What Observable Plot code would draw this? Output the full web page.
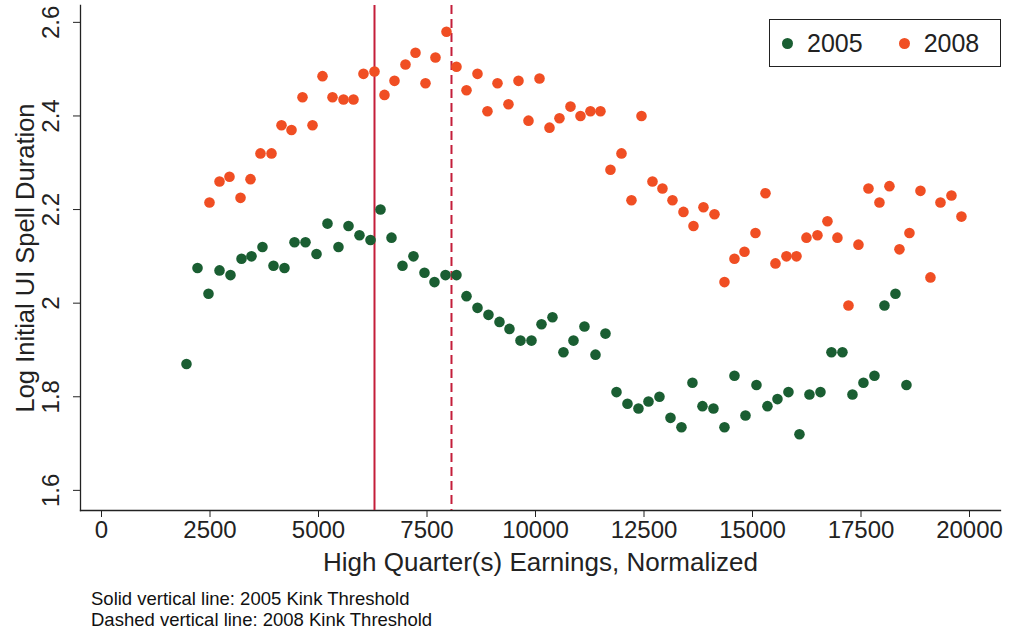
<!DOCTYPE html>
<html>
<head>
<meta charset="utf-8">
<script src="https://cdn.jsdelivr.net/npm/d3@7"></script>
<script src="https://cdn.jsdelivr.net/npm/@observablehq/plot@0.6"></script>
<style>
  body { margin: 0; background: #fff; font-family: "Liberation Sans", Arial, sans-serif; }
  #wrap { position: relative; width: 1018px; }
  #legend { position: absolute; left: 769px; top: 19px; width: 230px; height: 46px; border: 1.3px solid #222;
    background: #fff; font-size: 25px; color: #222; display: flex; align-items: center; }
  #legend span.dot { display: inline-block; width: 11px; height: 11px; border-radius: 50%; margin: 0 14px 0 12px; }
  #caption { font-size: 18.5px; color: #111; margin-left: 91px; line-height: 21px; margin-top: 0px; }
</style>
</head>
<body>
<div id="wrap">
  <div id="chart"></div>
  <div id="legend"><span class="dot" style="background:#1a5e32"></span>2005<span class="dot" style="background:#f04e23;margin-left:36px"></span>2008</div>
  <div id="caption">Solid vertical line: 2005 Kink Threshold<br>Dashed vertical line: 2008 Kink Threshold</div>
</div>
<script>
const x2005 = [1958,2212,2465,2719,2972,3226,3456,3709,3963,4216,4447,4700,4954,5207,5460,5691,5944,6198,6428,6682,
  6935,7188,7442,7672,7926,8179,8410,8663,8916,9170,9400,9654,9907,10138,10391,10644,10875,11128,11382,11612,
  11866,12119,12372,12603,12856,13110,13363,13616,13847,14100,14354,14584,14838,15091,15344,15575,15828,16082,16312,16566,
  16819,17072,17303,17556,17810,18040,18294,18547];
const y2005 = [1.87,2.075,2.02,2.07,2.06,2.095,2.10,2.12,2.08,2.075,2.13,2.13,2.105,2.17,2.12,2.165,2.145,2.135,2.20,2.14,
  2.08,2.10,2.065,2.045,2.06,2.06,2.015,1.99,1.975,1.96,1.945,1.92,1.92,1.955,1.97,1.895,1.92,1.95,1.89,1.935,
  1.81,1.785,1.775,1.79,1.80,1.755,1.735,1.83,1.78,1.775,1.735,1.845,1.76,1.825,1.78,1.795,1.81,1.72,1.805,1.81,
  1.895,1.895,1.805,1.83,1.845,1.995,2.02,1.825];
const x2008 = [2488,2719,2949,3203,3433,3663,3917,4147,4378,4631,4862,5092,5322,5576,5806,6036,6290,6520,6751,7004,
  7235,7465,7695,7949,8179,8410,8663,8893,9124,9377,9608,9838,10092,10322,10552,10806,
  11036,11266,11497,11727,11981,12211,12442,12695,12925,13156,13409,13640,13870,14124,14354,14584,14815,15068,15299,15529,
  15782,16013,16243,16497,16727,16957,17211,17441,17672,17925,18155,18386,18616,18870,19100,19331,19584,19814];
const y2008 = [2.215,2.26,2.27,2.225,2.265,2.32,2.32,2.38,2.37,2.44,2.38,2.485,2.44,2.435,2.435,2.49,2.495,2.445,2.475,2.51,
  2.535,2.47,2.525,2.58,2.505,2.455,2.49,2.41,2.47,2.425,2.475,2.39,2.48,2.375,2.395,2.42,
  2.40,2.41,2.41,2.285,2.32,2.22,2.40,2.26,2.245,2.22,2.195,2.165,2.205,2.19,2.045,2.095,2.11,2.15,2.235,2.085,
  2.10,2.10,2.14,2.145,2.175,2.14,1.995,2.125,2.245,2.215,2.25,2.115,2.15,2.24,2.055,2.215,2.23,2.185];
const kink2005 = 6290;
const kink2008 = 8064;
const xTicks = [0,2500,5000,7500,10000,12500,15000,17500,20000];
const yTicks = [1.6,1.8,2,2.2,2.4,2.6];

const pts2005 = x2005.map((x, i) => ({x, y: y2005[i]}));
const pts2008 = x2008.map((x, i) => ({x, y: y2008[i]}));

const chart = Plot.plot({
  width: 1018,
  height: 588,
  marginLeft: 80,
  marginRight: 18,
  marginTop: 5,
  marginBottom: 78,
  x: {domain: [-484, 20714]},
  y: {domain: [1.557, 2.636]},
  style: {fontFamily: "Liberation Sans, Arial, sans-serif", color: "#222", background: "#fff"},
  marks: [
    Plot.frame({anchor: "left", stroke: "#222", strokeWidth: 1.3}),
    Plot.frame({anchor: "bottom", stroke: "#222", strokeWidth: 1.3}),
    Plot.axisX(xTicks, {tickSize: 7, fontSize: 24, tickPadding: 3, label: "High Quarter(s) Earnings, Normalized",
      labelAnchor: "center", labelArrow: "none", labelOffset: 60, tickFormat: d => String(d)}),
    Plot.axisY(yTicks, {tickSize: 7, tickFormat: () => "", label: null}),
    Plot.text(yTicks, {y: d => d, frameAnchor: "left", textAnchor: "middle", dx: -29, rotate: -90, fontSize: 24,
      text: d => d === 2 ? "2" : d.toFixed(1), fill: "#222"}),
    Plot.text(["Log Initial UI Spell Duration"], {frameAnchor: "left", textAnchor: "middle", dx: -55, rotate: -90,
      fontSize: 25.5, fill: "#222"}),
    Plot.ruleX([kink2005], {stroke: "#c41e3a", strokeWidth: 2}),
    Plot.ruleX([kink2008], {stroke: "#c41e3a", strokeWidth: 2, strokeDasharray: "9,5"}),
    Plot.dot(pts2005, {x: "x", y: "y", r: 5.3, fill: "#1a5e32"}),
    Plot.dot(pts2008, {x: "x", y: "y", r: 5.3, fill: "#f04e23"})
  ]
});
d3.select("#chart").append(() => chart);
d3.select(chart).selectAll("[aria-label='x-axis label'] text").attr("font-size", 26);
</script>
</body>
</html>
